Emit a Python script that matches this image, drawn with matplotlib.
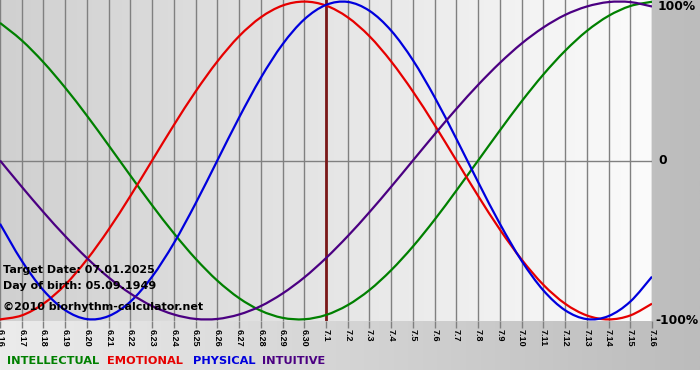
import matplotlib
matplotlib.use("Agg")
import matplotlib.pyplot as plt
from matplotlib.path import Path
from matplotlib.patches import PathPatch
from matplotlib.colors import LinearSegmentedColormap
import numpy as np

# day labels along the bottom axis
days = ["6.16", "6.17", "6.18", "6.19", "6.20", "6.21", "6.22", "6.23", "6.24",
        "6.25", "6.26", "6.27", "6.28", "6.29", "6.30", "7.1", "7.2", "7.3",
        "7.4", "7.5", "7.6", "7.7", "7.8", "7.9", "7.10", "7.11", "7.12",
        "7.13", "7.14", "7.15", "7.16"]
target_day = "7.1"

# percent values, one per day
intellectual = [86.6, 75.6, 61.8, 45.8, 28.2, 9.5, -9.5, -28.2, -45.8, -61.8, -75.6,
                -86.6, -94.5, -99.0, -99.9, -97.2, -91.0, -81.5, -69.0, -54.1, -37.2,
                -18.9, 0, 18.9, 37.2, 54.1, 69.0, 81.5, 91.0, 97.2, 99.9]
emotional = [-100, -97.5, -90.1, -78.2, -62.3, -43.4, -22.3, 0, 22.3, 43.4, 62.3,
             78.2, 90.1, 97.5, 100, 97.5, 90.1, 78.2, 62.3, 43.4, 22.3, 0, -22.3,
             -43.4, -62.3, -78.2, -90.1, -97.5, -100, -97.5, -90.1]
physical = [-39.8, -63.1, -81.7, -94.2, -99.8, -97.9, -88.8, -73.1, -52.0, -27.0, 0,
            27.0, 52.0, 73.1, 88.8, 97.9, 99.8, 94.2, 81.7, 63.1, 39.8, 13.6, -13.6,
            -39.8, -63.1, -81.7, -94.2, -99.8, -97.9, -88.8, -73.1]
intuitive = [0, -16.5, -32.5, -47.6, -61.4, -73.6, -83.7, -91.6, -96.9, -99.7, -99.7,
             -96.9, -91.6, -83.7, -73.6, -61.4, -47.6, -32.5, -16.5, 0, 16.5, 32.5,
             47.6, 61.4, 73.6, 83.7, 91.6, 96.9, 99.7, 99.7, 96.9]

series = [("INTELLECTUAL", intellectual, "#008000"),
          ("EMOTIONAL", emotional, "#e60000"),
          ("PHYSICAL", physical, "#0000dd"),
          ("INTUITIVE", intuitive, "#4b0082")]

info_lines = ["Target Date: 07.01.2025", "Day of birth: 05.09.1949"]
copyright_line = "\u00a92010 biorhythm-calculator.net"

W, H = 700, 380
fig = plt.figure(figsize=(W / 100, H / 100), dpi=100, facecolor="white")


def px(x, y):
    return x / W, 1 - y / H


def smooth_path(xs, ys):
    # cubic bezier through the daily points (catmull-rom tangents)
    xs = np.asarray(xs, float)
    ys = np.asarray(ys, float)
    verts = [(xs[0], ys[0])]
    codes = [Path.MOVETO]
    n = len(xs)
    for i in range(n - 1):
        p0 = np.array([xs[max(i - 1, 0)], ys[max(i - 1, 0)]])
        p1 = np.array([xs[i], ys[i]])
        p2 = np.array([xs[i + 1], ys[i + 1]])
        p3 = np.array([xs[min(i + 2, n - 1)], ys[min(i + 2, n - 1)]])
        c1 = p1 + (p2 - p0) / 6
        c2 = p2 - (p3 - p1) / 6
        verts += [tuple(c1), tuple(c2), tuple(p2)]
        codes += [Path.CURVE4] * 3
    return Path(verts, codes)


# figure background: grey gradient, white strip at the very bottom
bg = fig.add_axes([0, 10 / H, 1, 370 / H])
bg.axis("off")
grad = np.linspace(0, 1, 256)[None, :]
bg.imshow(grad, aspect="auto", extent=[0, 1, 0, 1],
          cmap=LinearSegmentedColormap.from_list("bg", ["#ececec", "#bcbcbc"]))

ax = fig.add_axes([0, (H - 321) / H, 652 / W, 321 / H])
x = np.arange(len(days))
ax.imshow(grad, aspect="auto", zorder=0, extent=[0, len(days) - 1, -101, 101],
          cmap=LinearSegmentedColormap.from_list("plot", ["#d0d0d0", "#fbfbfb"]))
ax.set_xlim(0, len(days) - 1)
ax.set_ylim(-101, 101)

for xi in x:
    ax.axvline(xi, color="#808080", lw=1, zorder=1)
ax.axhline(0, color="#808080", lw=1, zorder=1)
ax.axvline(days.index(target_day), color="#7a1818", lw=2, zorder=3)

for name, vals, color in series:
    ax.add_patch(PathPatch(smooth_path(x, vals), facecolor="none",
                           edgecolor=color, lw=1.6, zorder=4))

for s in ax.spines.values():
    s.set_visible(False)
ax.set_yticks([])
ax.set_xticks(x)
ax.set_xticklabels(days, rotation=270, fontsize=6.5, fontweight="bold",
                   family="Liberation Sans")
ax.tick_params(axis="x", length=5, width=1, color="#808080", pad=1)
for lbl in ax.get_xticklabels():
    lbl.set_va("top")
    lbl.set_ha("center")

# right side percent labels
for txt, yy, xx in [("100%", 7, 658), ("0", 161, 658), ("-100%", 321, 655)]:
    fig.text(*px(xx, yy), txt, fontsize=8.8, fontweight="bold", va="center", ha="left")

# info text in the lower left of the plot
for i, line in enumerate(info_lines):
    fig.text(*px(3, 270 + 16 * i), line, fontsize=8, fontweight="bold", va="center")
fig.text(*px(3, 307), copyright_line, fontsize=8, fontweight="bold", va="center")

# legend row
legend_x = [7, 107, 193, 262]
for (name, vals, color), lx in zip(series, legend_x):
    fig.text(*px(lx, 361), name, color=color, fontsize=8.2, fontweight="bold", va="center")

fig.savefig("out.png", dpi=100)
